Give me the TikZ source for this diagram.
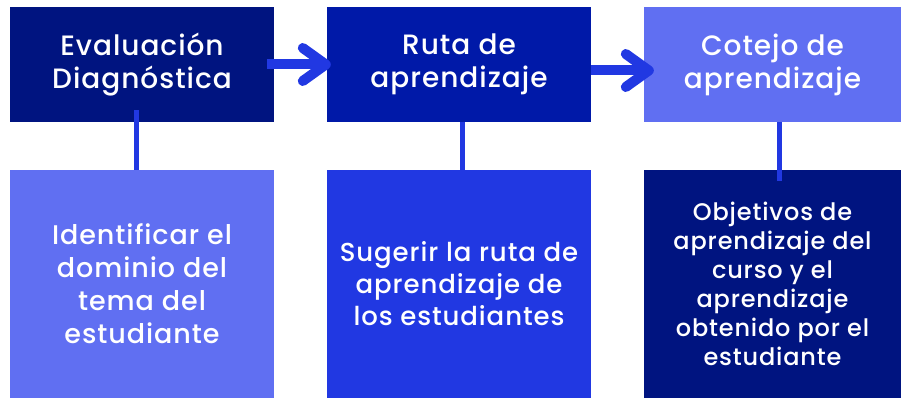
\documentclass[tikz,border=0pt]{standalone}
\usepackage{fontspec}
\IfFontExistsTF{Poppins Medium}
    {\setmainfont{Poppins Medium}[LetterSpace=3.5]}
    {\setmainfont{Poppins}[LetterSpace=3.5]}
\usetikzlibrary{arrows.meta}
\definecolor{marino}{HTML}{001480}
\definecolor{azul}{HTML}{0019A8}
\definecolor{brillante}{HTML}{2138E2}
\definecolor{lavanda}{HTML}{606FF2}
\begin{document}
\begin{tikzpicture}[x=1pt,y=-1pt]
    \tikzset{caja/.style={fill=#1, text=white, inner sep=0pt, minimum width=264pt, align=center},
        arriba/.style={caja=#1, minimum height=115pt, font=\fontsize{28}{33}\selectfont},
        abajo/.style={caja=#1, minimum height=228pt},
        flecha/.style={draw=brillante, line width=10pt, -{Straight Barb[length=23pt, width=33pt, round]}},
        union/.style={draw=brillante, line width=5pt}}
    \useasboundingbox (0,0) rectangle (901,398);

    %Fila superior
    \node[arriba=marino] (eval) at (142,64.5)                           {Evaluación\\Diagnóstica};
    \node[arriba=azul] (ruta) at (459,64.5)                             {Ruta de\\aprendizaje};
    \node[arriba=lavanda, minimum width=257pt] (cotejo) at (772.5,64.5) {Cotejo de\\aprendizaje};

    %Fila inferior
    \node[abajo=lavanda, font=\fontsize{27}{33}\selectfont] (ident) at (142,284)
        {Identificar el\\dominio del\\tema del\\estudiante};
    \node[abajo=brillante, font=\fontsize{26}{32}\selectfont] (suger) at (459,284)
        {Sugerir la ruta de\\aprendizaje de\\los estudiantes};
    \node[abajo=marino, minimum width=257pt, font=\fontsize{24}{29}\selectfont] (objet) at (772.5,284)
        {Objetivos de\\aprendizaje del\\curso y el\\aprendizaje\\obtenido por el\\estudiante};

    %Flechas
    \draw[flecha] ([xshift=-7pt]eval.east) -- ([xshift=4pt]ruta.west);
    \draw[flecha] ([yshift=-6pt]ruta.east) -- ([xshift=10pt,yshift=-6pt]cotejo.west);

    %Uniones
    \draw[union] ([xshift=-6pt,yshift=12pt]eval.south) -- ([xshift=-6pt]ident.north);
    \draw[union] ([xshift=3pt]ruta.south) -- ([xshift=3pt]suger.north);
    \draw[union] ([xshift=6.5pt]cotejo.south) -- ([xshift=6.5pt,yshift=-11pt]objet.north);
\end{tikzpicture}
\end{document}
